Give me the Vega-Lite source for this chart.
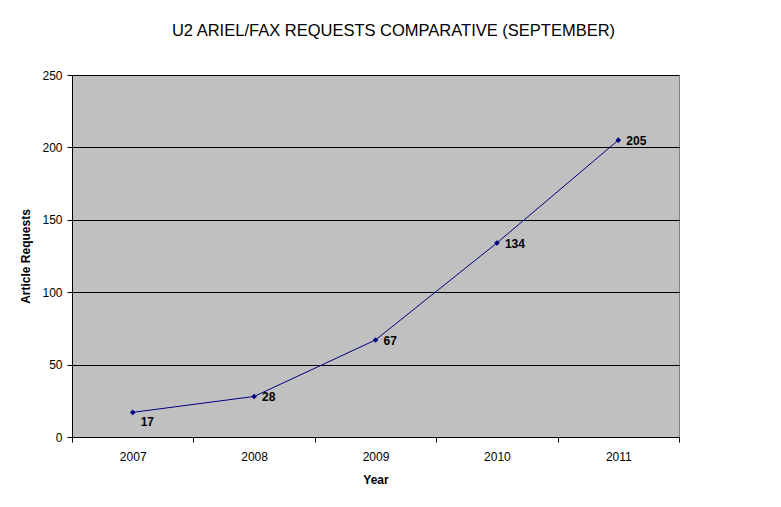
{
  "$schema": "https://vega.github.io/schema/vega-lite/v6.json",
  "width": 607,
  "height": 362,
  "autosize": {"type": "none"},
  "padding": {"left": 72, "top": 75, "right": 102, "bottom": 70},
  "background": "white",
  "title": {
    "text": "U2 ARIEL/FAX REQUESTS COMPARATIVE (SEPTEMBER)",
    "font": "Liberation Sans",
    "fontSize": 16.5,
    "fontWeight": "normal",
    "color": "black",
    "anchor": "middle",
    "dx": 18,
    "offset": 30
  },
  "data": {
    "values": [
      {"year": "2007", "requests": 17},
      {"year": "2008", "requests": 28},
      {"year": "2009", "requests": 67},
      {"year": "2010", "requests": 134},
      {"year": "2011", "requests": 205}
    ]
  },
  "encoding": {
    "x": {
      "field": "year",
      "type": "ordinal",
      "scale": {"type": "band", "paddingInner": 0, "paddingOuter": 0},
      "axis": {
        "title": "Year",
        "labelAngle": 0,
        "tickBand": "extent",
        "tickSize": 5,
        "labelPadding": 9,
        "titlePadding": 12,
        "domainColor": "black",
        "tickColor": "black"
      }
    },
    "y": {
      "field": "requests",
      "type": "quantitative",
      "scale": {"domain": [0, 250]},
      "axis": {
        "title": "Article Requests",
        "values": [0, 50, 100, 150, 200, 250],
        "tickSize": 5,
        "labelPadding": 5,
        "titlePadding": 9,
        "grid": true,
        "gridColor": "black",
        "gridOpacity": 1,
        "domainColor": "black",
        "tickColor": "black"
      }
    }
  },
  "layer": [
    {
      "mark": {"type": "line", "color": "#000080", "strokeWidth": 1}
    },
    {
      "mark": {"type": "point", "shape": "diamond", "filled": true, "color": "#000080", "opacity": 1, "size": 32}
    },
    {
      "transform": [{"filter": "datum.requests != 17"}],
      "mark": {"type": "text", "align": "left", "dx": 8, "dy": 1, "font": "Liberation Sans", "fontSize": 12, "fontWeight": "bold", "color": "black"},
      "encoding": {"text": {"field": "requests", "type": "quantitative"}}
    },
    {
      "transform": [{"filter": "datum.requests == 17"}],
      "mark": {"type": "text", "align": "left", "dx": 8, "dy": 10, "font": "Liberation Sans", "fontSize": 12, "fontWeight": "bold", "color": "black"},
      "encoding": {"text": {"field": "requests", "type": "quantitative"}}
    }
  ],
  "config": {
    "view": {"fill": "#C0C0C0", "stroke": "#808080", "strokeWidth": 1},
    "axis": {
      "labelFont": "Liberation Sans",
      "labelFontSize": 12,
      "labelColor": "black",
      "titleFont": "Liberation Sans",
      "titleFontSize": 12,
      "titleFontWeight": "bold",
      "titleColor": "black"
    }
  }
}
